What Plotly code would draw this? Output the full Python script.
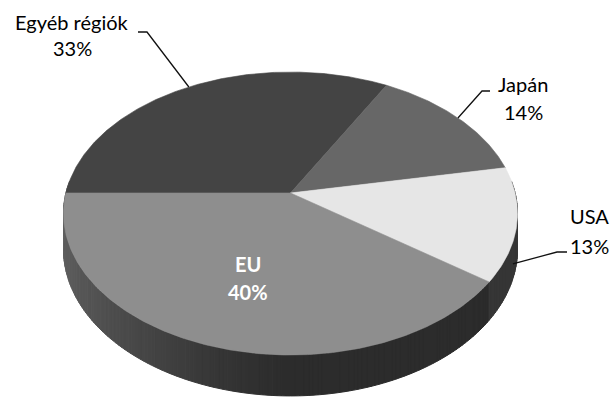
import numpy as np
import plotly.graph_objects as go

# ---- data ----
categories = ["Egyéb régiók", "Japán", "USA", "EU"]
values = [33, 14, 13, 40]
pct_labels = ["33%", "14%", "13%", "40%"]
top_colors = ["#444444", "#676767", "#e6e6e6", "#8e8e8e"]
side_boost = [0, 14, 10, 0]

# ---- geometry of the tilted (perspective) pie, in pixels ----
CX, CY = 290.5, 193.0
W, C, K, T = 224.6, 138.5, 0.145, 35.0
START = 270.0  # degrees clockwise from 12 o'clock


def proj(theta_deg, h=0.0):
    t = np.radians(theta_deg)
    u, v = np.sin(t), np.cos(t)
    d = 1 + K * v
    return CX + W * u / d, CY - C * v / d + h * T / d


fig = go.Figure()

total = float(sum(values))
bounds = []
cum = 0.0
for v in values:
    a0 = START + cum / total * 360
    cum += v
    a1 = START + cum / total * 360
    bounds.append((a0, a1))

# ---- side wall (drawn first), grouped by shade ----
groups = {}
for i, (a0, a1) in enumerate(bounds):
    n = max(2, int(np.ceil((a1 - a0) / 1.0)))
    th = np.linspace(a0, a1, n + 1)
    for j in range(n):
        tm = 0.5 * (th[j] + th[j + 1])
        if np.cos(np.radians(tm)) > 0.08:
            continue
        u = np.sin(np.radians(tm))
        L = 0x2c + 0x34 * max(0.0, -u) ** 1.3 + side_boost[i]
        L = int(round(min(255, L)))
        col = "#%02x%02x%02x" % (L, L, L)
        x1, y1 = proj(th[j])
        x2, y2 = proj(th[j + 1])
        x3, y3 = proj(th[j + 1], 1)
        x4, y4 = proj(th[j], 1)
        g = groups.setdefault(col, ([], []))
        g[0].extend([x1, x2, x3, x4, x1, None])
        g[1].extend([y1, y2, y3, y4, y1, None])

for col, (xs, ys) in sorted(groups.items()):
    fig.add_trace(go.Scatter(x=xs, y=ys, mode="lines", fill="toself",
                             fillcolor=col, line=dict(color=col, width=1),
                             hoverinfo="skip", showlegend=False))

# ---- top faces ----
for i, (a0, a1) in enumerate(bounds):
    th = np.linspace(a0, a1, int((a1 - a0) * 2) + 2)
    xs, ys = proj(th)
    xs = np.concatenate([[CX], xs, [CX]])
    ys = np.concatenate([[CY], ys, [CY]])
    fig.add_trace(go.Scatter(x=xs, y=ys, mode="lines", fill="toself",
                             fillcolor=top_colors[i],
                             line=dict(color=top_colors[i], width=0.6),
                             hoverinfo="skip", showlegend=False,
                             name=categories[i]))

# ---- leader lines (elbow positions near labels) ----
elbows = {0: [(138, 32), (147, 32)], 1: [(490, 91), (482, 91)], 2: [(567, 252), (557, 252)]}
for i, pts in elbows.items():
    a0, a1 = bounds[i]
    mid = 0.5 * (a0 + a1)
    h = 1.1 if np.cos(np.radians(mid)) < 0 else 0.0
    ex, ey = proj(mid, h)
    if h > 0:
        ex -= 4
    xs = [p[0] for p in pts] + [ex]
    ys = [p[1] for p in pts] + [ey]
    fig.add_trace(go.Scatter(x=xs, y=ys, mode="lines",
                             line=dict(color="#111111", width=1.3),
                             hoverinfo="skip", showlegend=False))

# ---- labels ----
FONT = "Lato"
FS = 20
label_pos = {0: (72, 22, 48), 1: (523, 84, 112), 2: (589, 216, 246)}
for i, (lx, ly1, ly2) in label_pos.items():
    fig.add_annotation(x=lx, y=ly1, text=categories[i], showarrow=False,
                       font=dict(family=FONT, size=FS, color="#000000"),
                       xanchor="center", yanchor="middle")
    fig.add_annotation(x=lx, y=ly2, text=pct_labels[i], showarrow=False,
                       font=dict(family=FONT, size=FS, color="#000000"),
                       xanchor="center", yanchor="middle")
fig.add_annotation(x=248, y=264, text="<b>%s</b>" % categories[3], showarrow=False,
                   font=dict(family=FONT, size=FS, color="white"),
                   xanchor="center", yanchor="middle")
fig.add_annotation(x=248, y=292, text="<b>%s</b>" % pct_labels[3], showarrow=False,
                   font=dict(family=FONT, size=FS, color="white"),
                   xanchor="center", yanchor="middle")

fig.update_layout(
    width=614, height=398,
    margin=dict(l=0, r=0, t=0, b=0),
    paper_bgcolor="white", plot_bgcolor="white",
    xaxis=dict(range=[0, 614], visible=False, fixedrange=True),
    yaxis=dict(range=[398, 0], visible=False, fixedrange=True),
    showlegend=False,
)
fig.write_html(
    "out.html",
    config={"displayModeBar": False, "staticPlot": True},
    post_script="document.body.style.margin='0';document.body.style.overflow='hidden';",
)
